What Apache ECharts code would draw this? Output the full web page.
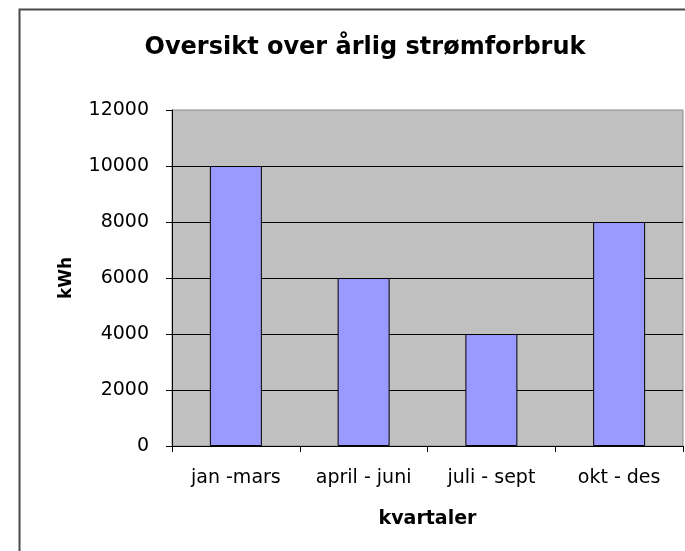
<!DOCTYPE html>
<html>
<head>
<meta charset="utf-8">
<script src="https://cdn.jsdelivr.net/npm/echarts@6/dist/echarts.min.js"></script>
<style>html,body{margin:0;padding:0;background:#fff}#c{width:685px;height:551px}</style>
</head>
<body>
<div id="c"></div>
<script>
const titleText = 'Oversikt over årlig strømforbruk';
const categories = ['jan -mars', 'april - juni', 'juli - sept', 'okt - des'];
const values = [10000, 6000, 4000, 8000];
const yAxisName = 'kWh';
const xAxisName = 'kvartaler';
const yMin = 0, yMax = 12000, yStep = 2000;

const FONT = 'DejaVu Sans';
const chart = echarts.init(document.getElementById('c'), null, {renderer: 'canvas'});
chart.setOption({
  backgroundColor: '#ffffff',
  animation: false,
  title: {
    text: titleText,
    left: 360, top: 31, textAlign: 'center',
    textStyle: {fontFamily: FONT, fontWeight: 'bold', fontSize: 24, color: '#000'}
  },
  graphic: [{
    type: 'rect', z: -1,
    shape: {x: 19.5, y: 9.5, width: 700, height: 600},
    style: {fill: 'none', stroke: '#4a4a4a', lineWidth: 2}
  }],
  grid: {
    left: 172, right: 2, top: 110, bottom: 105,
    show: true, backgroundColor: '#C0C0C0', borderColor: '#8a8a8a', borderWidth: 1
  },
  xAxis: {
    type: 'category', data: categories,
    name: xAxisName, nameLocation: 'middle', nameGap: 64,
    nameTextStyle: {fontFamily: FONT, fontWeight: 'bold', fontSize: 19, color: '#000'},
    axisLine: {lineStyle: {color: '#000', width: 1}},
    axisTick: {show: true, length: 6, lineStyle: {color: '#000'}},
    axisLabel: {fontFamily: FONT, fontSize: 19, color: '#000', margin: 23},
    splitLine: {show: false}
  },
  yAxis: {
    type: 'value', min: yMin, max: yMax, interval: yStep,
    name: yAxisName, nameLocation: 'middle', nameGap: 97, nameRotate: 90,
    nameTextStyle: {fontFamily: FONT, fontWeight: 'bold', fontSize: 17, color: '#000'},
    axisLine: {show: true, lineStyle: {color: '#000', width: 1}},
    axisTick: {show: true, length: 6, lineStyle: {color: '#000'}},
    axisLabel: {fontFamily: FONT, fontSize: 19, color: '#000', margin: 23, formatter: (v) => String(v)},
    splitLine: {show: true, showMaxLine: false, showMinLine: false, lineStyle: {color: '#000', width: 1}}
  },
  series: [{
    type: 'bar', data: values, barWidth: 52,
    itemStyle: {color: '#9999FF', borderColor: '#000', borderWidth: 1}
  }]
});
</script>
</body>
</html>
